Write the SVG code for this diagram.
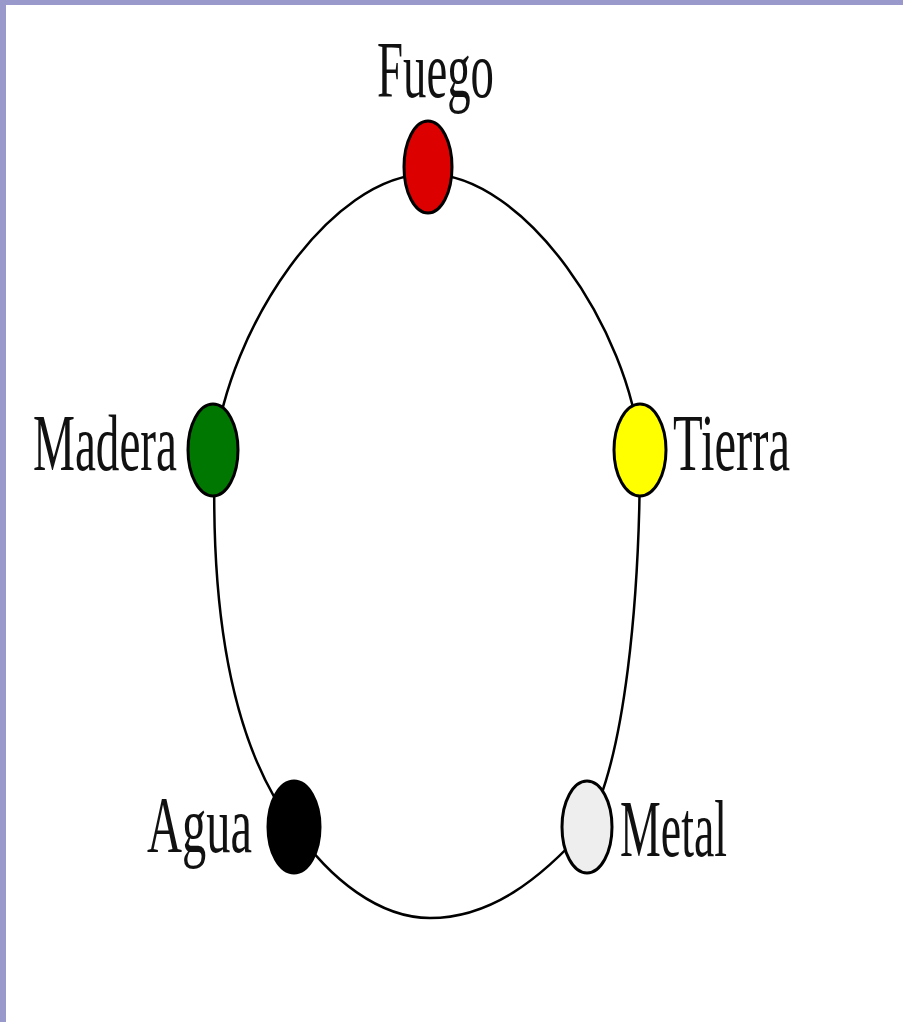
<svg xmlns="http://www.w3.org/2000/svg" width="903" height="1022" viewBox="0 0 903 1022">
<style>
.node{stroke:#000;stroke-width:3}
.lbl{font-family:"Liberation Serif","Times New Roman",serif;font-size:80px;fill:#111}
.ring{fill:none;stroke:#000;stroke-width:2.5}
</style>
<rect x="0" y="0" width="903" height="1022" fill="#fff"/>
<rect x="0" y="0" width="903" height="5" fill="#9999CC"/>
<rect x="0" y="0" width="6" height="1022" fill="#9999CC"/>
<g id="connectors">
<path class="ring" d="M 428,174 C 330,174 228,330 215,450 C 210,600 228,740 294,827 C 330,880 380,918 430,918 C 490,918 540,880 587,827 C 625,760 640,600 640,450 C 630,330 525,174 428,174 Z"/>
</g>
<g id="fuego"><ellipse class="node" cx="428" cy="167" rx="24" ry="46" fill="#DD0000"/><text class="lbl" x="377" y="97" textLength="117" lengthAdjust="spacingAndGlyphs">Fuego</text></g>
<g id="madera"><ellipse class="node" cx="213" cy="450" rx="25" ry="46" fill="#007700"/><text class="lbl" x="33" y="470" textLength="144" lengthAdjust="spacingAndGlyphs">Madera</text></g>
<g id="tierra"><ellipse class="node" cx="640" cy="450" rx="26" ry="46" fill="#FFFF00"/><text class="lbl" x="673" y="470" textLength="117" lengthAdjust="spacingAndGlyphs">Tierra</text></g>
<g id="agua"><ellipse class="node" cx="294" cy="827" rx="26" ry="46" fill="#000"/><text class="lbl" x="147" y="852" textLength="105" lengthAdjust="spacingAndGlyphs">Agua</text></g>
<g id="metal"><ellipse class="node" cx="587" cy="827" rx="25" ry="46" fill="#EEEEEE"/><text class="lbl" x="620" y="856" textLength="107" lengthAdjust="spacingAndGlyphs">Metal</text></g>
</svg>
